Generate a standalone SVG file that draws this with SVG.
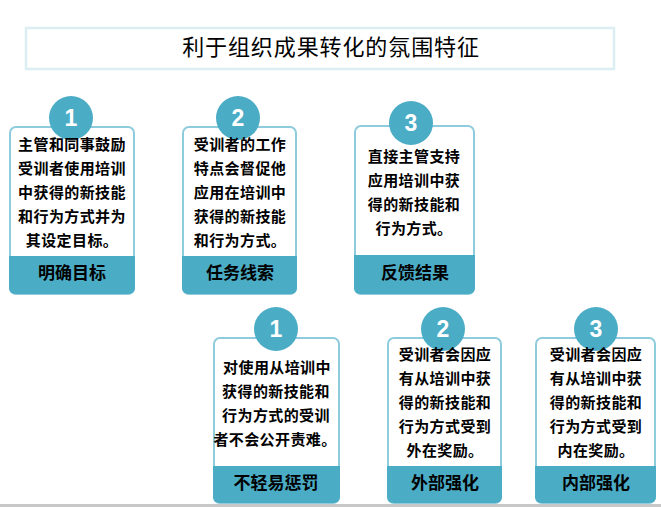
<svg xmlns="http://www.w3.org/2000/svg" width="661" height="507" viewBox="0 0 661 507">
<style>
.card{fill:#fff;stroke:#8ECBDC;stroke-width:2}
.foot{fill:#4BACC6}
.num-c{fill:#4BACC6}
.num{fill:#fff;font-family:"Liberation Sans",Arial,sans-serif;font-weight:bold;font-size:23px;text-anchor:middle}
.body{fill:#000;font-family:"Noto Sans CJK SC","Noto Sans",sans-serif;font-weight:bold;font-size:15px;letter-spacing:0.4px;text-anchor:middle}
.lab{fill:#000;font-family:"Noto Sans CJK SC","Noto Sans",sans-serif;font-weight:bold;font-size:17px;text-anchor:middle}
.title{fill:#000;font-family:"Noto Sans CJK SC","Noto Sans",sans-serif;font-size:22px;letter-spacing:0.9px;text-anchor:middle}
</style>
<rect width="661" height="507" fill="#fff"/>
<g id="title">
<rect x="26" y="28" width="588" height="41" fill="#fff" stroke="#DAEEF3" stroke-width="2.5"/>
<text class="title" x="331" y="55">利于组织成果转化的氛围特征</text>
</g>
<g id="connectors"></g>
<g id="node-top-1">
<rect class="card" x="10" y="127" width="124" height="167" rx="6"/>
<path class="foot" d="M9,256 H135 V288 a6,6 0 0 1 -6,6 H15 a6,6 0 0 1 -6,-6 Z"/>
<circle class="num-c" cx="71" cy="118" r="22"/>
<text class="num" x="71" y="126">1</text>
<text class="body" x="72"><tspan x="72" y="150">主管和同事鼓励</tspan><tspan x="72" y="174">受训者使用培训</tspan><tspan x="72" y="198">中获得的新技能</tspan><tspan x="72" y="222">和行为方式并为</tspan><tspan x="72" y="246">其设定目标。</tspan></text>
<text class="lab" x="72" y="279">明确目标</text>
</g>
<g id="node-top-2">
<rect class="card" x="183" y="127" width="113" height="167" rx="6"/>
<path class="foot" d="M182,256 H297 V288 a6,6 0 0 1 -6,6 H188 a6,6 0 0 1 -6,-6 Z"/>
<circle class="num-c" cx="238" cy="118" r="22"/>
<text class="num" x="238" y="126">2</text>
<text class="body" x="240"><tspan x="240" y="150">受训者的工作</tspan><tspan x="240" y="174">特点会督促他</tspan><tspan x="240" y="198">应用在培训中</tspan><tspan x="240" y="222">获得的新技能</tspan><tspan x="240" y="246">和行为方式。</tspan></text>
<text class="lab" x="240" y="279">任务线索</text>
</g>
<g id="node-top-3">
<rect class="card" x="355" y="126" width="119" height="168" rx="6"/>
<path class="foot" d="M354,255 H475 V288 a6,6 0 0 1 -6,6 H360 a6,6 0 0 1 -6,-6 Z"/>
<circle class="num-c" cx="411" cy="123" r="22"/>
<text class="num" x="411" y="131">3</text>
<text class="body" x="414"><tspan x="414" y="162">直接主管支持</tspan><tspan x="414" y="186">应用培训中获</tspan><tspan x="414" y="210">得的新技能和</tspan><tspan x="414" y="234">行为方式。</tspan></text>
<text class="lab" x="415" y="279">反馈结果</text>
</g>
<g id="node-bottom-1">
<rect class="card" x="214" y="338" width="125" height="165" rx="6"/>
<path class="foot" d="M213,466 H340 V497 a6,6 0 0 1 -6,6 H219 a6,6 0 0 1 -6,-6 Z"/>
<circle class="num-c" cx="276" cy="329" r="22"/>
<text class="num" x="276" y="337">1</text>
<text class="body" x="276"><tspan x="277" y="373">对使用从培训中</tspan><tspan x="276" y="397">获得的新技能和</tspan><tspan x="276" y="421">行为方式的受训</tspan><tspan x="275" y="445">者不会公开责难。</tspan></text>
<text class="lab" x="276" y="489">不轻易惩罚</text>
</g>
<g id="node-bottom-2">
<rect class="card" x="388" y="338" width="113" height="165" rx="6"/>
<path class="foot" d="M387,466 H502 V497 a6,6 0 0 1 -6,6 H393 a6,6 0 0 1 -6,-6 Z"/>
<circle class="num-c" cx="443" cy="329" r="22"/>
<text class="num" x="443" y="337">2</text>
<text class="body" x="445"><tspan x="445" y="360">受训者会因应</tspan><tspan x="445" y="384">有从培训中获</tspan><tspan x="445" y="408">得的新技能和</tspan><tspan x="445" y="432">行为方式受到</tspan><tspan x="445" y="456">外在奖励。</tspan></text>
<text class="lab" x="445" y="489">外部强化</text>
</g>
<g id="node-bottom-3">
<rect class="card" x="536" y="338" width="119" height="165" rx="6"/>
<path class="foot" d="M535,466 H656 V497 a6,6 0 0 1 -6,6 H541 a6,6 0 0 1 -6,-6 Z"/>
<circle class="num-c" cx="596" cy="329" r="22"/>
<text class="num" x="596" y="337">3</text>
<text class="body" x="596"><tspan x="596" y="360">受训者会因应</tspan><tspan x="596" y="384">有从培训中获</tspan><tspan x="596" y="408">得的新技能和</tspan><tspan x="596" y="432">行为方式受到</tspan><tspan x="596" y="456">内在奖励。</tspan></text>
<text class="lab" x="596" y="489">内部强化</text>
</g>
<rect x="0" y="504" width="661" height="3" fill="#C8C8C8"/>
</svg>
